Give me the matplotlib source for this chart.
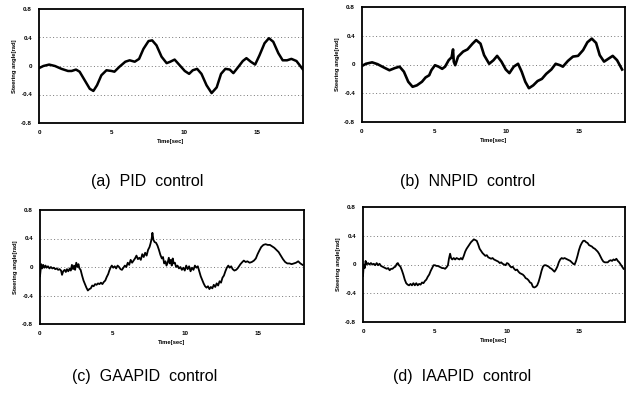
import matplotlib
matplotlib.use("Agg")
import matplotlib.pyplot as plt

plt.rcParams['font.family'] = ['Liberation Sans', 'DejaVu Sans']

# ---------------- data ----------------
a_t = [0.0, 0.3, 0.7, 1.1, 1.55, 2.0, 2.25, 2.55, 2.8, 3.15, 3.5, 3.75, 4.0, 4.3, 4.65, 5.0,
       5.2, 5.55, 5.95, 6.25, 6.6, 6.9, 7.2, 7.55, 7.8, 8.1, 8.45, 8.8, 9.05, 9.35, 9.7, 10.05,
       10.35, 10.6, 10.9, 11.2, 11.55, 11.9, 12.25, 12.55, 12.85, 13.15, 13.4, 13.75, 14.05,
       14.3, 14.6, 14.9, 15.2, 15.55, 15.85, 16.15, 16.5, 16.8, 17.1, 17.4, 17.75, 18.2]
a_y = [-0.03, 0.0, 0.02, 0.0, -0.04, -0.07, -0.07, -0.05, -0.08, -0.2, -0.32, -0.35, -0.27,
       -0.13, -0.06, -0.07, -0.08, -0.01, 0.06, 0.08, 0.06, 0.1, 0.24, 0.35, 0.36, 0.29, 0.13,
       0.04, 0.06, 0.09, 0.01, -0.07, -0.11, -0.06, -0.04, -0.11, -0.27, -0.38, -0.3, -0.11,
       -0.04, -0.05, -0.1, -0.01, 0.07, 0.11, 0.06, 0.02, 0.15, 0.32, 0.39, 0.34, 0.18, 0.08,
       0.08, 0.1, 0.07, -0.05]

b_t = [0.0, 0.27, 0.7, 1.07, 1.5, 1.9, 2.27, 2.6, 2.9, 3.2, 3.5, 3.8, 4.15, 4.4, 4.65, 4.8,
       5.05, 5.3, 5.55, 5.75, 6.0, 6.2, 6.3, 6.35, 6.45, 6.65, 7.0, 7.3, 7.65, 7.9, 8.2, 8.45,
       8.8, 9.1, 9.35, 9.65, 9.95, 10.2, 10.5, 10.8, 11.05, 11.3, 11.55, 11.85, 12.15, 12.45,
       12.75, 13.1, 13.4, 13.7, 13.9, 14.25, 14.6, 14.95, 15.3, 15.6, 15.9, 16.2, 16.45,
       16.75, 17.05, 17.35, 17.65, 18.0]
b_y = [-0.02, 0.01, 0.03, 0.005, -0.04, -0.08, -0.05, -0.03, -0.1, -0.24, -0.31, -0.29,
       -0.24, -0.18, -0.15, -0.08, -0.01, -0.03, -0.06, -0.03, 0.06, 0.1, 0.21, 0.04, -0.01,
       0.11, 0.18, 0.21, 0.29, 0.34, 0.29, 0.13, 0.01, 0.06, 0.12, 0.04, -0.07, -0.12, -0.03,
       0.01, -0.1, -0.24, -0.33, -0.29, -0.23, -0.2, -0.13, -0.07, 0.01, -0.01, -0.03, 0.05,
       0.11, 0.12, 0.2, 0.31, 0.36, 0.3, 0.13, 0.04, 0.08, 0.12, 0.06, -0.07]

c_t = [0.00, 0.08, 0.15, 0.22, 0.30, 0.38, 0.45, 0.55, 0.65, 0.75, 0.85, 0.95, 1.05, 1.15,
       1.25, 1.35, 1.45, 1.52, 1.60, 1.70, 1.78, 1.86, 1.95, 2.05, 2.12, 2.20, 2.28, 2.35,
       2.42, 2.50, 2.58, 2.65, 2.72, 2.80, 2.90, 3.00, 3.10, 3.20, 3.30, 3.40, 3.50, 3.60,
       3.70, 3.80, 3.90, 4.00, 4.10, 4.20, 4.30, 4.40, 4.50, 4.60, 4.70, 4.78, 4.86, 4.95,
       5.05, 5.15, 5.25, 5.35, 5.45, 5.55, 5.65, 5.75, 5.85, 5.95, 6.05, 6.15, 6.25, 6.35,
       6.45, 6.55, 6.65, 6.75, 6.85, 6.95, 7.05, 7.15, 7.25, 7.35, 7.45, 7.55, 7.62, 7.70,
       7.75, 7.82, 7.90, 8.00, 8.10, 8.20, 8.30, 8.40, 8.48, 8.56, 8.65, 8.72, 8.80, 8.88,
       8.95, 9.02, 9.08, 9.15, 9.22, 9.30, 9.38, 9.48, 9.58, 9.68, 9.78, 9.88, 9.98, 10.08,
       10.18, 10.28, 10.38, 10.48, 10.58, 10.68, 10.78, 10.88, 10.98, 11.08, 11.18, 11.28,
       11.38, 11.48, 11.58, 11.68, 11.78, 11.88, 11.98, 12.08, 12.18, 12.28, 12.38, 12.48,
       12.58, 12.68, 12.78, 12.88, 12.98, 13.08, 13.18, 13.28, 13.40, 13.52, 13.62, 13.72,
       13.82, 13.95, 14.05, 14.18, 14.30, 14.45, 14.60, 14.75, 14.88, 15.00, 15.12, 15.25,
       15.40, 15.55, 15.70, 15.85, 16.00, 16.15, 16.30, 16.45, 16.60, 16.75, 16.90, 17.05,
       17.20, 17.35, 17.50, 17.65, 17.80, 17.95, 18.10]
c_y = [-0.13, 0.04, -0.02, 0.03, -0.01, 0.02, -0.01, 0.01, -0.02, 0.00, -0.02, -0.01, -0.03,
       -0.02, -0.04, -0.03, -0.05, -0.11, -0.06, -0.04, -0.07, -0.03, -0.06, -0.02, -0.05,
       0.03, -0.03, 0.02, -0.04, 0.06, 0.00, 0.04, -0.02, -0.04, -0.12, -0.19, -0.24, -0.29,
       -0.33, -0.31, -0.30, -0.26, -0.27, -0.24, -0.25, -0.23, -0.24, -0.22, -0.24, -0.21,
       -0.19, -0.14, -0.10, -0.05, -0.01, 0.02, -0.01, 0.01, -0.02, 0.02, 0.00, -0.03, -0.04,
       -0.01, 0.02, 0.00, 0.06, 0.03, 0.10, 0.06, 0.09, 0.12, 0.16, 0.11, 0.13, 0.10, 0.18,
       0.14, 0.20, 0.16, 0.24, 0.28, 0.33, 0.40, 0.48, 0.38, 0.35, 0.34, 0.30, 0.24, 0.17,
       0.12, 0.14, 0.05, 0.08, 0.02, 0.06, 0.13, 0.05, 0.10, 0.02, 0.12, 0.05, 0.06, 0.00,
       0.02, -0.02, 0.00, -0.04, -0.01, -0.05, 0.02, -0.03, 0.01, -0.06, -0.01, -0.04, 0.02,
       -0.01, 0.01, -0.06, -0.13, -0.18, -0.23, -0.27, -0.29, -0.27, -0.31, -0.28, -0.30,
       -0.25, -0.28, -0.23, -0.26, -0.20, -0.22, -0.15, -0.12, -0.06, -0.01, 0.02, -0.01,
       0.01, -0.03, -0.05, -0.04, -0.02, 0.01, 0.04, 0.07, 0.09, 0.07, 0.08, 0.06, 0.07, 0.09,
       0.12, 0.18, 0.23, 0.28, 0.31, 0.32, 0.31, 0.31, 0.29, 0.27, 0.24, 0.21, 0.16, 0.11,
       0.07, 0.05, 0.05, 0.04, 0.05, 0.06, 0.08, 0.05, 0.03]

d_t = [0.00, 0.05, 0.12, 0.18, 0.25, 0.35, 0.45, 0.55, 0.65, 0.75, 0.85, 0.95, 1.05, 1.15,
       1.25, 1.35, 1.45, 1.55, 1.65, 1.75, 1.85, 1.95, 2.05, 2.15, 2.25, 2.35, 2.42, 2.50,
       2.60, 2.70, 2.80, 2.90, 3.00, 3.10, 3.20, 3.30, 3.40, 3.50, 3.60, 3.70, 3.80, 3.90,
       4.00, 4.10, 4.20, 4.30, 4.40, 4.50, 4.60, 4.70, 4.80, 4.90, 5.00, 5.10, 5.20, 5.30,
       5.40, 5.50, 5.60, 5.70, 5.80, 5.90, 5.97, 6.05, 6.12, 6.20, 6.30, 6.40, 6.50, 6.60,
       6.70, 6.80, 6.90, 7.00, 7.10, 7.20, 7.30, 7.40, 7.50, 7.60, 7.70, 7.80, 7.90, 8.00,
       8.10, 8.20, 8.30, 8.40, 8.50, 8.60, 8.70, 8.80, 8.90, 9.00, 9.10, 9.20, 9.30, 9.40,
       9.50, 9.60, 9.70, 9.80, 9.90, 10.00, 10.10, 10.20, 10.30, 10.40, 10.50, 10.60, 10.70,
       10.80, 10.90, 11.00, 11.10, 11.20, 11.30, 11.40, 11.50, 11.60, 11.70, 11.80, 11.90,
       12.00, 12.10, 12.20, 12.30, 12.40, 12.50, 12.60, 12.70, 12.80, 12.90, 13.00, 13.10,
       13.20, 13.30, 13.40, 13.50, 13.60, 13.70, 13.80, 13.90, 14.00, 14.10, 14.20, 14.30,
       14.40, 14.50, 14.60, 14.70, 14.80, 14.90, 15.00, 15.10, 15.20, 15.30, 15.40, 15.50,
       15.60, 15.70, 15.80, 15.90, 16.00, 16.10, 16.20, 16.30, 16.40, 16.50, 16.60, 16.70,
       16.80, 16.90, 17.00, 17.10, 17.20, 17.30, 17.40, 17.50, 17.60, 17.70, 17.80, 17.90,
       18.00, 18.10]
d_y = [-0.16, 0.00, -0.05, 0.05, 0.00, 0.02, 0.00, 0.02, 0.00, 0.01, -0.01, 0.02, -0.01,
       0.01, -0.02, -0.03, -0.04, -0.05, -0.06, -0.05, -0.08, -0.06, -0.06, -0.04, -0.03,
       0.01, 0.02, -0.01, -0.03, -0.08, -0.14, -0.21, -0.26, -0.28, -0.29, -0.27, -0.29,
       -0.26, -0.29, -0.26, -0.29, -0.27, -0.28, -0.25, -0.26, -0.23, -0.21, -0.17, -0.14,
       -0.09, -0.05, -0.01, -0.01, -0.02, -0.02, -0.03, -0.04, -0.05, -0.05, -0.06, -0.04,
       -0.01, 0.08, 0.15, 0.09, 0.07, 0.09, 0.07, 0.09, 0.08, 0.07, 0.09, 0.07, 0.12, 0.18,
       0.22, 0.25, 0.28, 0.31, 0.33, 0.35, 0.34, 0.33, 0.28, 0.22, 0.19, 0.16, 0.14, 0.12,
       0.13, 0.10, 0.09, 0.08, 0.09, 0.07, 0.06, 0.05, 0.04, 0.02, 0.03, 0.01, 0.00, -0.01,
       0.02, 0.01, -0.02, -0.04, -0.03, -0.06, -0.08, -0.07, -0.10, -0.12, -0.13, -0.14,
       -0.16, -0.19, -0.20, -0.22, -0.25, -0.26, -0.31, -0.32, -0.31, -0.29, -0.24, -0.17,
       -0.09, -0.03, -0.01, -0.01, -0.02, -0.03, -0.05, -0.06, -0.08, -0.10, -0.07, -0.03,
       0.03, 0.07, 0.09, 0.08, 0.09, 0.08, 0.07, 0.06, 0.05, 0.03, 0.01, 0.00, 0.05, 0.12,
       0.20, 0.26, 0.30, 0.33, 0.33, 0.31, 0.30, 0.27, 0.26, 0.25, 0.23, 0.22, 0.20, 0.18,
       0.15, 0.11, 0.07, 0.04, 0.03, 0.03, 0.03, 0.05, 0.06, 0.05, 0.07, 0.06, 0.08, 0.05,
       0.03, 0.00, -0.03, -0.06]

y_ticks = [0.8, 0.4, 0, -0.4, -0.8]
y_tick_labels = ["0.8", "0.4", "0", "-0.4", "-0.8"]
x_ticks = [0, 5, 10, 15]
x_tick_labels = ["0", "5", "10", "15"]
captions = ["(a)  PID  control", "(b)  NNPID  control",
            "(c)  GAAPID  control", "(d)  IAAPID  control"]

# ---------------- figure ----------------
W, H = 627, 393
fig = plt.figure(figsize=(W / 100, H / 100), dpi=100)

def box(l, r, t, b):
    return [l / W, (H - b) / H, (r - l) / W, (b - t) / H]

panels = [
    (box(39, 303, 9, 123), a_t, a_y, 1.8),
    (box(362, 625, 7, 122), b_t, b_y, 1.9),
    (box(40, 304, 210, 324), c_t, c_y, 1.3),
    (box(363, 625, 207, 322), d_t, d_y, 1.3),
]
cap_pos = [(147, 181), (468, 181), (145, 376), (462, 376)]

for (rect, t, y, lw), cap, (cx, cy) in zip(panels, captions, cap_pos):
    ax = fig.add_axes(rect)
    ax.plot(t, y, color='black', lw=lw, solid_joinstyle='round')
    ax.set_xlim(0, 18.2)
    ax.set_ylim(-0.8, 0.8)
    for g in [0.4, 0, -0.4]:
        ax.axhline(g, color='#777777', lw=0.7, ls=(0, (1, 2.5)), zorder=0)
    ax.set_yticks(y_ticks)
    ax.set_yticklabels(y_tick_labels, fontsize=4.5, fontweight='bold')
    ax.set_xticks(x_ticks)
    ax.set_xticklabels(x_tick_labels, fontsize=4.5, fontweight='bold')
    ax.tick_params(length=0, pad=5)
    for s in ax.spines.values():
        s.set_linewidth(1.3)
    ax.set_ylabel("Steering angle[rad]", fontsize=4.2, fontweight='bold', labelpad=3)
    ax.set_xlabel("Time[sec]", fontsize=4.2, fontweight='bold', labelpad=3)
    fig.text(cx / W, 1 - cy / H, cap, fontsize=11.5, ha='center', va='center')

fig.savefig("out.png", dpi=100)
